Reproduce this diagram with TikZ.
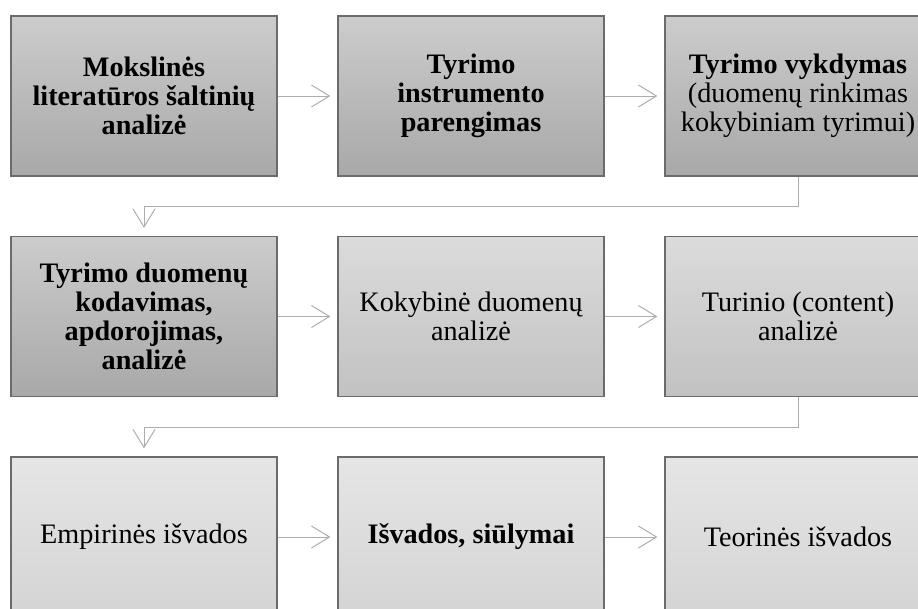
\documentclass[tikz,border=0pt]{standalone}
\usepackage{fontspec}
\setmainfont{Liberation Serif}
\usetikzlibrary{arrows.meta}
\begin{document}
\begin{tikzpicture}[x=1pt,y=-1pt,
  box/.style={rectangle, draw=black!58, line width=1.2pt, minimum width=266pt, minimum height=160pt,
    align=center, inner sep=2pt, font=\fontsize{28.2}{28.8}\selectfont},
  dark/.style={box, top color=black!20, bottom color=black!34},
  mid/.style={box, top color=black!14, bottom color=black!24},
  light/.style={box, top color=black!10, bottom color=black!17},
  conn/.style={draw=black!32, line width=1pt, shorten >=7pt,
    -{Straight Barb[length=18pt,width=22pt,line width=1pt]}}]
\useasboundingbox (0,0) rectangle (918,608);
\clip (0,0) rectangle (918,608);
\node[dark] (a1) at (144,96) {\bfseries Mokslinės\\\bfseries literatūros šaltinių\\\bfseries analizė};
\node[dark] (a2) at (471,96) {\bfseries Tyrimo\\\bfseries instrumento\\\bfseries parengimas};
\node[dark] (a3) at (798,96) {\bfseries Tyrimo vykdymas\\(duomenų rinkimas\\kokybiniam tyrimui)};
\node[dark] (b1) at (144,316.5) {\bfseries Tyrimo duomenų\\\bfseries kodavimas,\\\bfseries apdorojimas,\\\bfseries analizė};
\node[mid] (b2) at (471,316.5) {Kokybinė duomenų\\analizė};
\node[mid] (b3) at (798,316.5) {Turinio (content)\\analizė};
\node[light] (c1) at (144,537) {Empirinės išvados};
\node[light] (c2) at (471,537) {\bfseries Išvados, siūlymai};
\node[light] (c3) at (798,537) {Teorinės išvados};
\draw[conn] (a1.east) -- (a2.west);
\draw[conn] (a2.east) -- (a3.west);
\draw[conn, shorten >=8pt] (a3.south) -- ++(0,30) -| (b1.north);
\draw[conn] (b1.east) -- (b2.west);
\draw[conn] (b2.east) -- (b3.west);
\draw[conn, shorten >=8pt] (b3.south) -- ++(0,30) -| (c1.north);
\draw[conn] (c1.east) -- (c2.west);
\draw[conn] (c2.east) -- (c3.west);
\end{tikzpicture}
\end{document}
